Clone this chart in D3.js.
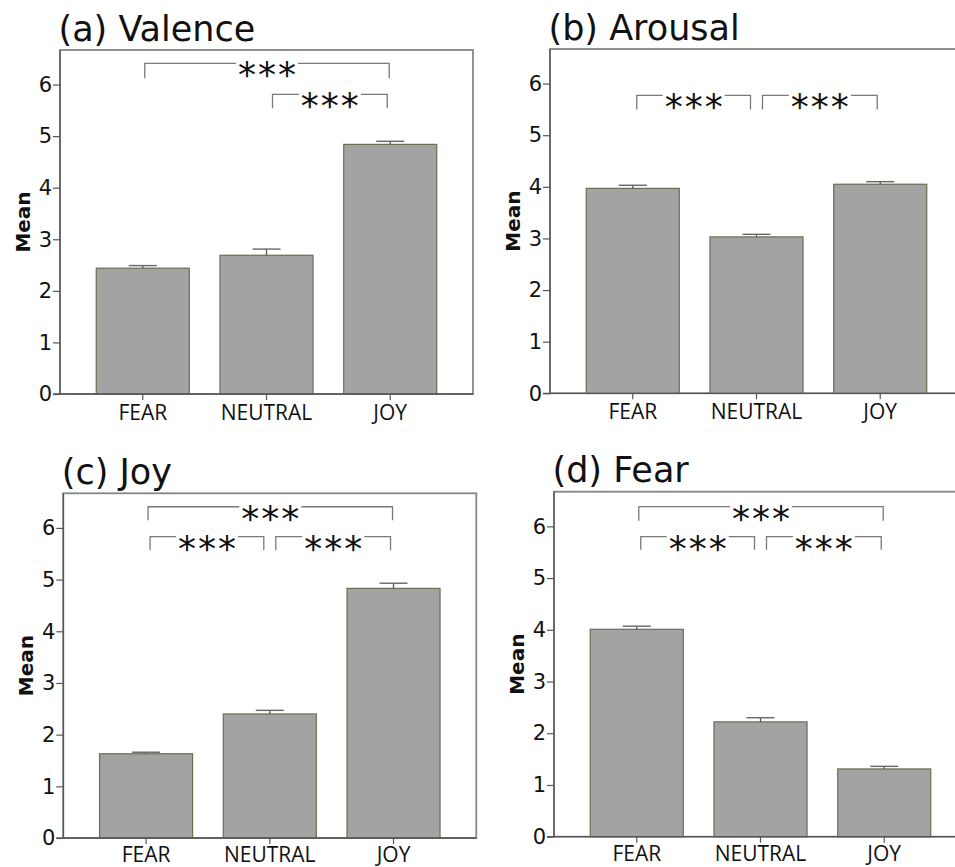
<!DOCTYPE html>
<html>
<head>
<meta charset="utf-8">
<script src="https://cdn.jsdelivr.net/npm/d3@7"></script>
<style>
  html, body { margin: 0; padding: 0; background: #fff; }
  svg { display: block; }
</style>
</head>
<body>
<svg id="chart" width="955" height="867"></svg>
<script>
// ---------- data ----------
const categories = ["FEAR", "NEUTRAL", "JOY"];
const yTicks = [0, 1, 2, 3, 4, 5, 6];
const titles = ["(a) Valence", "(b) Arousal", "(c) Joy", "(d) Fear"];
const yLabel = "Mean";
const sigLabel = "***";

const valenceMean = [2.44, 2.69, 4.84];
const valenceErr  = [0.05, 0.12, 0.06];
const arousalMean = [3.97, 3.03, 4.05];
const arousalErr  = [0.06, 0.05, 0.05];
const joyMean     = [1.63, 2.40, 4.83];
const joyErr      = [0.03, 0.07, 0.10];
const fearMean    = [4.01, 2.22, 1.31];
const fearErr     = [0.06, 0.08, 0.05];

// significance brackets: [from category, to category, bar level, leg end level]
const valenceSig = [[0, 2, 6.41, 6.12], [1, 2, 5.81, 5.54]];
const arousalSig = [[0, 1, 5.77, 5.50], [1, 2, 5.77, 5.50]];
const joySig     = [[0, 2, 6.41, 6.15], [0, 1, 5.83, 5.57], [1, 2, 5.83, 5.57]];
const fearSig    = [[0, 2, 6.38, 6.11], [0, 1, 5.80, 5.55], [1, 2, 5.80, 5.55]];

// ---------- layout ----------
const layout = [
  { left: 60,    top: 50,    bottom: 394,   pad: 5 },
  { left: 550,   top: 49,    bottom: 393.3, pad: 5 },
  { left: 63.3,  top: 493.3, bottom: 838,   pad: 3 },
  { left: 554,   top: 491.7, bottom: 836.7, pad: 3 }
];
const frameW = 413;
const yMax = 6.67;
const panelData = [
  { mean: valenceMean, err: valenceErr, sig: valenceSig },
  { mean: arousalMean, err: arousalErr, sig: arousalSig },
  { mean: joyMean,     err: joyErr,     sig: joySig },
  { mean: fearMean,    err: fearErr,    sig: fearSig }
];

const svg = d3.select("#chart");

panelData.forEach((pd, i) => {
  const L = layout[i];
  const g = svg.append("g");
  const x = d3.scaleBand().domain(categories)
    .range([L.left, L.left + frameW]).paddingInner(0.248).paddingOuter(0.293);
  const y = d3.scaleLinear().domain([0, yMax]).range([L.bottom, L.top]);

  // frame (top/right)
  g.append("rect")
    .attr("x", L.left).attr("y", L.top)
    .attr("width", frameW).attr("height", L.bottom - L.top)
    .attr("fill", "none").attr("stroke", "#858585").attr("stroke-width", 1.8);

  // title
  g.append("text")
    .attr("x", L.left - 1.5).attr("y", L.top - 9.5)
    .attr("font-family", "DejaVu Sans").attr("font-size", 35)
    .attr("fill", "#111")
    .text(titles[i]);

  // bars
  const rows = categories.map((c, k) => ({ c, m: pd.mean[k], e: pd.err[k] }));
  g.selectAll("rect.bar").data(rows).join("rect")
    .attr("class", "bar")
    .attr("x", d => x(d.c)).attr("width", x.bandwidth())
    .attr("y", d => y(d.m)).attr("height", d => y(0) - y(d.m))
    .attr("fill", "#a3a3a3").attr("stroke", "#6e6c52").attr("stroke-width", 1.2);

  // error bars (upper half)
  const cx = d => x(d.c) + x.bandwidth() / 2;
  g.selectAll("line.eb").data(rows).join("line")
    .attr("x1", cx).attr("x2", cx)
    .attr("y1", d => y(d.m)).attr("y2", d => y(d.m + d.e))
    .attr("stroke", "#555").attr("stroke-width", 1.3);
  g.selectAll("line.cap").data(rows).join("line")
    .attr("x1", d => cx(d) - 14).attr("x2", d => cx(d) + 14)
    .attr("y1", d => y(d.m + d.e)).attr("y2", d => y(d.m + d.e))
    .attr("stroke", "#666").attr("stroke-width", 1.4);

  // y axis
  const yAxis = d3.axisLeft(y).tickValues(yTicks).tickSize(7).tickPadding(1).tickFormat(d3.format("d"));
  const ya = g.append("g").attr("transform", `translate(${L.left},0)`).call(yAxis);
  ya.select(".domain").attr("d", `M0,${L.top}V${L.bottom}`).attr("stroke", "#555").attr("stroke-width", 1.3);
  ya.selectAll(".tick line").attr("stroke", "#555").attr("stroke-width", 1.2);
  ya.selectAll(".tick text").attr("font-family", "DejaVu Sans").attr("font-size", 21).attr("fill", "#111");

  // x axis
  const xAxis = d3.axisBottom(x).tickSize(6).tickPadding(L.pad);
  const xa = g.append("g").attr("transform", `translate(0,${L.bottom})`).call(xAxis);
  xa.select(".domain").attr("d", `M${L.left - 7},0H${L.left + frameW}`).attr("stroke", "#555").attr("stroke-width", 1.3);
  xa.selectAll(".tick line").attr("stroke", "#555").attr("stroke-width", 1.2);
  xa.selectAll(".tick text").attr("font-family", "Open Sans").attr("font-size", 21).attr("fill", "#111");

  // y label
  g.append("text")
    .attr("transform", `translate(${L.left - 37.5},${(L.top + L.bottom) / 2}) rotate(-90)`)
    .attr("text-anchor", "middle").attr("dy", "0.35em")
    .attr("font-family", "DejaVu Sans").attr("font-weight", "bold").attr("font-size", 20)
    .attr("fill", "#111")
    .text(yLabel);

  // significance brackets
  pd.sig.forEach(s => {
    const [a, b, lvl, leg] = s;
    const insL = (b - a === 2) ? 2 : (a === 0 ? 4 : 6);
    const insR = (b - a === 2) ? 1 : (b === 1 ? 6 : 3);
    const x1 = x(categories[a]) + x.bandwidth() / 2 + insL;
    const x2 = x(categories[b]) + x.bandwidth() / 2 - insR;
    const yl = y(lvl), yg = y(leg);
    const mid = (x1 + x2) / 2;
    const t = g.append("text")
      .attr("x", mid + 1).attr("y", yl + 24)
      .attr("text-anchor", "middle")
      .attr("font-family", "DejaVu Sans").attr("font-size", 36)
      .attr("letter-spacing", 2).attr("fill", "#111")
      .text(sigLabel);
    const half = t.node().getComputedTextLength() / 2 + 1;
    g.append("path")
      .attr("d", `M${x1},${yg}V${yl}H${mid - half}`)
      .attr("stroke", "#7a7a7a").attr("stroke-width", 1.3).attr("fill", "none");
    g.append("path")
      .attr("d", `M${mid + half},${yl}H${x2}V${yg}`)
      .attr("stroke", "#7a7a7a").attr("stroke-width", 1.3).attr("fill", "none");
  });
});
</script>
</body>
</html>
